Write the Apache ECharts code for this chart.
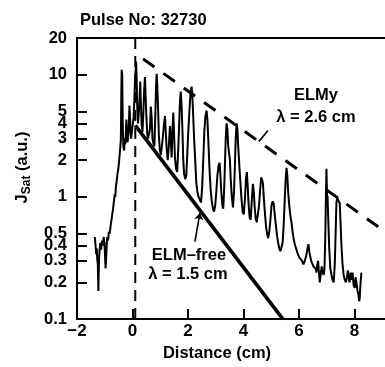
<!DOCTYPE html>
<html>
<head>
<meta charset="utf-8">
<script src="https://cdn.jsdelivr.net/npm/echarts@6/dist/echarts.min.js"></script>
<style>
html,body{margin:0;padding:0;background:#fff;}
#chart{width:385px;height:367px;}
</style>
</head>
<body>
<div id="chart"></div>
<script>
// ---- data ----
const distance = [
-1.36,-1.33,-1.31,-1.29,-1.27,-1.25,-1.23,-1.21,-1.19,-1.16,-1.13,-1.10,-1.07,-1.04,-1.01,-0.99,-0.97,-0.95,-0.93,-0.91,
-0.88,-0.85,-0.82,-0.79,-0.76,-0.73,-0.70,-0.67,-0.64,-0.62,-0.60,-0.57,-0.54,-0.51,-0.48,-0.45,-0.42,-0.40,-0.39,-0.37,
-0.35,-0.33,-0.30,-0.28,-0.26,-0.24,-0.22,-0.20,-0.18,-0.15,-0.13,-0.11,-0.09,-0.07,-0.05,-0.03,-0.01,0.02,0.04,0.07,
0.09,0.11,0.13,0.15,0.17,0.20,0.23,0.25,0.28,0.30,0.33,0.36,0.39,0.42,0.45,0.47,0.50,0.53,0.56,0.60,
0.63,0.66,0.69,0.72,0.76,0.79,0.82,0.85,0.87,0.89,0.92,0.95,0.98,1.02,1.06,1.10,1.14,1.17,1.20,1.23,
1.27,1.31,1.35,1.38,1.41,1.44,1.47,1.50,1.53,1.57,1.61,1.65,1.68,1.71,1.74,1.77,1.80,1.83,1.86,1.90,
1.94,1.98,2.02,2.06,2.10,2.13,2.16,2.19,2.22,2.26,2.30,2.34,2.38,2.43,2.47,2.51,2.55,2.59,2.63,2.67,
2.70,2.73,2.77,2.81,2.85,2.90,2.94,2.98,3.02,3.06,3.10,3.14,3.17,3.20,3.24,3.27,3.30,3.33,3.36,3.39,
3.42,3.45,3.48,3.51,3.54,3.58,3.62,3.66,3.69,3.72,3.75,3.78,3.81,3.85,3.89,3.93,3.97,4.01,4.05,4.09,
4.12,4.15,4.18,4.22,4.26,4.30,4.34,4.37,4.40,4.44,4.48,4.52,4.56,4.60,4.64,4.67,4.70,4.73,4.77,4.81,
4.85,4.89,4.93,4.97,5.01,5.05,5.09,5.13,5.17,5.21,5.25,5.29,5.33,5.37,5.41,5.45,5.49,5.52,5.55,5.58,
5.61,5.65,5.69,5.73,5.77,5.81,5.86,5.91,5.96,6.01,6.06,6.11,6.16,6.21,6.26,6.31,6.34,6.37,6.40,6.44,
6.48,6.52,6.56,6.60,6.63,6.66,6.69,6.72,6.75,6.78,6.82,6.85,6.89,6.92,6.95,6.97,6.99,7.01,7.03,7.06,
7.09,7.13,7.17,7.21,7.25,7.29,7.32,7.35,7.38,7.41,7.44,7.47,7.50,7.53,7.57,7.61,7.65,7.69,7.73,7.76,
7.79,7.82,7.86,7.90,7.93,7.97,8.01,8.04,8.07,8.11,8.14,8.17,8.19,8.22,8.25
];
const jsat = [
0.47,0.40,0.34,0.38,0.31,0.28,0.17,0.29,0.36,0.42,0.37,0.44,0.40,0.47,0.42,0.33,0.26,0.31,0.40,0.47,
0.44,0.52,0.50,0.58,0.64,0.72,0.80,0.92,1.05,1.00,1.20,1.35,1.55,1.70,2.0,2.4,2.9,8.0,11.0,10.0,
3.8,2.6,2.4,3.0,2.7,3.3,4.3,3.4,2.8,3.2,3.9,5.6,4.5,3.5,3.0,3.3,3.6,3.6,4.5,6.5,
9.0,10.5,12.8,9.0,5.5,4.0,5.0,6.0,8.8,6.0,3.9,3.4,4.8,7.5,9.6,7.0,4.6,3.3,3.0,2.9,
3.6,5.5,4.5,3.0,2.7,2.6,4.5,8.0,10.2,8.5,5.5,3.2,2.5,2.2,2.6,3.2,4.0,4.6,3.4,2.5,
2.0,2.6,3.8,3.0,2.1,3.5,4.9,3.2,2.1,1.7,1.6,2.5,3.8,6.0,7.3,5.5,3.5,2.0,1.55,1.4,
1.5,2.4,3.8,5.5,7.4,8.0,6.5,4.5,3.0,2.0,1.3,1.1,1.0,0.95,0.9,1.2,2.0,3.5,4.6,5.1,
4.3,3.0,1.8,1.2,0.95,0.8,0.76,0.85,1.1,1.5,1.8,1.9,1.5,1.1,0.85,0.8,1.1,1.8,3.0,4.0,
3.6,2.6,2.3,2.0,1.4,1.0,0.82,1.1,1.8,3.0,4.0,3.6,2.6,1.8,1.3,0.95,0.75,0.72,0.95,1.4,
1.6,1.25,0.9,0.68,0.65,0.95,1.28,1.1,0.85,0.66,0.62,0.64,0.85,1.15,1.45,1.48,1.3,1.0,0.75,0.58,
0.5,0.46,0.52,0.65,0.85,0.92,0.88,0.7,0.58,0.48,0.42,0.38,0.36,0.35,0.42,0.6,1.0,1.4,1.73,1.5,
1.1,0.85,0.7,0.62,0.52,0.45,0.4,0.37,0.34,0.32,0.31,0.30,0.28,0.30,0.33,0.38,0.41,0.36,0.33,0.30,
0.29,0.27,0.28,0.26,0.24,0.28,0.30,0.24,0.20,0.23,0.27,0.24,0.23,0.26,0.5,1.0,1.7,1.05,1.0,0.6,
0.38,0.26,0.23,0.21,0.20,0.28,0.5,0.9,1.0,0.95,0.95,0.88,0.6,0.4,0.28,0.23,0.21,0.20,0.22,0.25,
0.22,0.20,0.24,0.21,0.24,0.19,0.18,0.22,0.20,0.17,0.16,0.14,0.15,0.20,0.24
];
const elmyFitX = [0.38, 9.1];
const elmyFitY = [13.5, 0.52];
const elmFreeFitX = [0.1, 5.42];
const elmFreeFitY = [3.85, 0.1];
const markerX = [0.1, 0.1];
const markerY = [0.1, 20];
const yTickLabels = [0.1, 0.2, 0.3, 0.4, 0.5, 1, 2, 3, 4, 5, 10, 20];
const yTickMarks = [0.2, 0.3, 0.4, 0.5, 1, 2, 3, 4, 5, 10];
const xTickLabels = [-2, 0, 2, 4, 6, 8];
const xTickMarks = [0, 2, 4, 6, 8];
const elmFreeArrow = [[2.25, 0.43], [2.43, 0.74]];
const elmyLeader = [[4.88, 3.5], [4.56, 2.85]];

const zip = (xs, ys) => xs.map((x, i) => [x, ys[i]]);
const FONT = '"Liberation Sans", Arial, sans-serif';

const chart = echarts.init(document.getElementById('chart'), null, {renderer: 'canvas'});
const option = {
  animation: false,
  backgroundColor: '#fff',
  title: {
    text: 'Pulse No: 32730',
    left: 75, top: 7,
    textStyle: {fontFamily: FONT, fontWeight: 'bold', fontSize: 16.5, color: '#000'}
  },
  grid: {left: 77, top: 38, right: 0, bottom: 46, containLabel: false},
  xAxis: [{
    type: 'value', min: -2, max: 9.1,
    name: 'Distance (cm)', nameLocation: 'middle', nameGap: 25,
    nameTextStyle: {fontFamily: FONT, fontWeight: 'bold', fontSize: 16.5, color: '#000', padding: [0, 28, 0, 0]},
    axisLine: {show: true, onZero: false, lineStyle: {color: '#000', width: 2}},
    axisTick: {show: true, inside: true, length: 10, lineStyle: {color: '#000', width: 2}, customValues: xTickMarks},
    axisLabel: {show: true, margin: 4, fontFamily: FONT, fontWeight: 'bold', fontSize: 17, color: '#000',
      customValues: xTickLabels,
      formatter: v => (v < 0 ? '\u2212' + Math.abs(v) : String(v))},
    splitLine: {show: false}
  }, {
    type: 'value', min: -2, max: 9.1, position: 'top',
    axisLine: {show: true, onZero: false, lineStyle: {color: '#000', width: 2}},
    axisTick: {show: false}, axisLabel: {show: false}, splitLine: {show: false}
  }],
  yAxis: {
    type: 'log', logBase: 10, min: 0.1, max: 20,
    name: 'J{s|Sat} (a.u.)', nameLocation: 'middle', nameGap: 42,
    nameTextStyle: {fontFamily: FONT, fontWeight: 'bold', fontSize: 16.5, color: '#000', lineHeight: 22,
      padding: [0, 0, 0, 22],
      rich: {s: {fontFamily: FONT, fontWeight: 'bold', fontSize: 12, color: '#000', lineHeight: 9, verticalAlign: 'bottom'}}},
    axisLine: {show: true, onZero: false, lineStyle: {color: '#000', width: 2}},
    axisTick: {show: true, inside: true, length: 10, lineStyle: {color: '#000', width: 2}, customValues: yTickMarks},
    axisLabel: {show: true, margin: 10, fontFamily: FONT, fontWeight: 'bold', fontSize: 16.5, color: '#000',
      customValues: yTickLabels, formatter: v => String(+(+v).toPrecision(3))},
    splitLine: {show: false}
  },
  series: [
    {
      name: 'JSat', type: 'line', data: zip(distance, jsat), showSymbol: false, symbol: 'none',
      lineStyle: {color: '#000', width: 2}, z: 3,
      markLine: {
        silent: true, animation: false, label: {show: false},
        lineStyle: {color: '#000', width: 1.6, type: 'solid'},
        symbolSize: 7,
        data: [
          [{coord: elmFreeArrow[0], symbol: 'none'}, {coord: elmFreeArrow[1], symbol: 'arrow'}],
          [{coord: elmyLeader[0], symbol: 'none'}, {coord: elmyLeader[1], symbol: 'none'}]
        ]
      }
    },
    {
      name: 'ELM-free fit', type: 'line', data: zip(elmFreeFitX, elmFreeFitY), showSymbol: false, symbol: 'none',
      lineStyle: {color: '#000', width: 3.6}, z: 4
    },
    {
      name: 'ELMy fit', type: 'line', data: zip(elmyFitX, elmyFitY), showSymbol: false, symbol: 'none',
      lineStyle: {color: '#000', width: 3, type: [14, 11]}, z: 4
    },
    {
      name: 'marker', type: 'line', data: zip(markerX, markerY), showSymbol: false, symbol: 'none',
      lineStyle: {color: '#000', width: 2, type: [11, 7]}, z: 4
    }
  ],
  graphic: [
    {type: 'text', x: 316, y: 95, style: {text: 'ELMy', font: 'bold 16.5px ' + FONT, fill: '#000', textAlign: 'center', textVerticalAlign: 'middle', align: 'center', verticalAlign: 'middle'}},
    {type: 'text', x: 316, y: 117, style: {text: '\u03bb = 2.6 cm', font: 'bold 16.5px ' + FONT, fill: '#000', textAlign: 'center', textVerticalAlign: 'middle', align: 'center', verticalAlign: 'middle'}},
    {type: 'text', x: 189, y: 255, style: {text: 'ELM\u2013free', font: 'bold 16.5px ' + FONT, fill: '#000', textAlign: 'center', textVerticalAlign: 'middle', align: 'center', verticalAlign: 'middle'}},
    {type: 'text', x: 188, y: 274, style: {text: '\u03bb = 1.5 cm', font: 'bold 16.5px ' + FONT, fill: '#000', textAlign: 'center', textVerticalAlign: 'middle', align: 'center', verticalAlign: 'middle'}}
  ]
};
chart.setOption(option);
</script>
</body>
</html>
